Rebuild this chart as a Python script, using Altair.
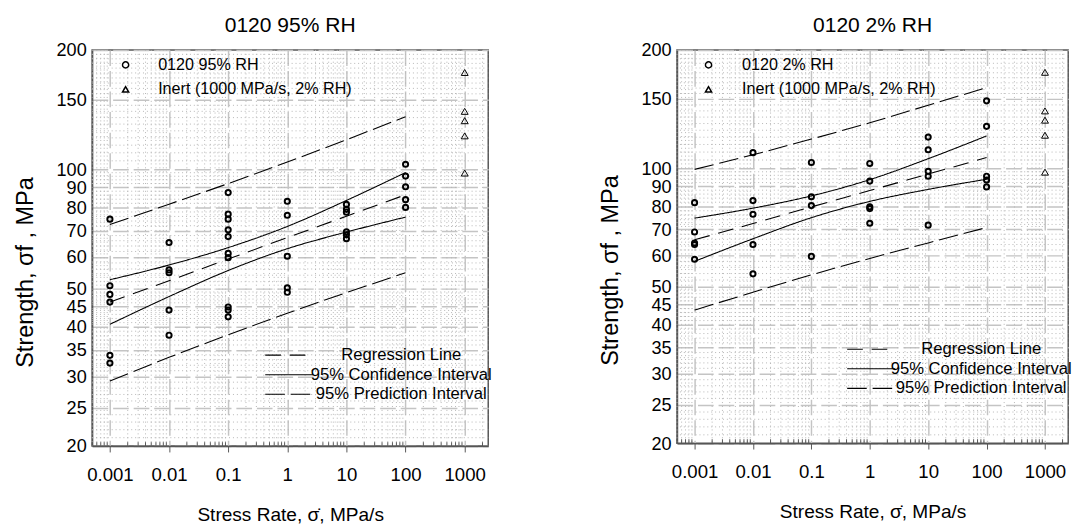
import altair as alt
import pandas as pd

FONT = "Liberation Sans"

# ---------------- data ----------------
RATES = [0.001, 0.01, 0.1, 1, 10, 100]
DECADES = [0.001, 0.01, 0.1, 1, 10, 100, 1000]
Y_TICKS = [20, 25, 30, 35, 40, 45, 50, 60, 70, 80, 90, 100, 150, 200]

INERT_LABEL = "Inert (1000 MPa/s, 2% RH)"
INERT_RATE = [1000, 1000, 1000, 1000, 1000]
INERT_STRENGTH = [175.5, 140.0, 132.6, 121.4, 97.8]

# 0120 95% RH
L_RATE = [0.001, 0.001, 0.001, 0.001, 0.001, 0.001,
          0.01, 0.01, 0.01, 0.01, 0.01,
          0.1, 0.1, 0.1, 0.1, 0.1, 0.1, 0.1, 0.1, 0.1, 0.1,
          1, 1, 1, 1, 1,
          10, 10, 10, 10, 10, 10,
          100, 100, 100, 100, 100]
L_STRENGTH = [74.8, 50.8, 48.3, 46.2, 33.9, 32.4,
              65.3, 55.7, 54.8, 44.1, 38.1,
              87.3, 77.0, 74.8, 70.3, 67.6, 61.3, 59.8, 44.9, 44.1, 42.4,
              83.0, 76.5, 60.3, 50.2, 48.9,
              81.5, 79.2, 77.9, 69.5, 68.3, 66.8,
              102.9, 96.1, 90.3, 83.8, 80.1]
L_REG = [46.2, 52.3, 59.3, 67.2, 76.1, 86.2]
L_CI_UP = [52.6, 57.3, 63.4, 71.7, 83.4, 98.1]
L_CI_LO = [40.6, 47.7, 55.5, 63.0, 69.4, 75.7]
L_PI_UP = [72.5, 81.6, 92.0, 104.3, 118.7, 135.7]
L_PI_LO = [29.2, 33.5, 38.2, 43.3, 48.8, 54.8]

# 0120 2% RH
R_RATE = [0.001, 0.001, 0.001, 0.001, 0.001,
          0.01, 0.01, 0.01, 0.01, 0.01,
          0.1, 0.1, 0.1, 0.1,
          1, 1, 1, 1, 1,
          10, 10, 10, 10, 10,
          100, 100, 100, 100, 100]
R_STRENGTH = [81.8, 68.9, 64.6, 64.0, 58.7,
              109.6, 82.8, 76.4, 64.0, 53.9,
              103.5, 84.7, 80.4, 59.7,
              102.9, 92.8, 79.8, 79.0, 72.5,
              120.1, 111.5, 98.3, 95.5, 71.7,
              148.5, 127.9, 95.5, 93.4, 89.7]
R_REG = [65.8, 72.4, 79.8, 87.8, 96.7, 106.5]
R_CI_UP = [74.7, 79.2, 85.1, 93.6, 105.8, 120.9]
R_CI_LO = [58.0, 66.2, 74.9, 82.4, 88.4, 93.8]
R_PI_UP = [99.4, 108.3, 118.7, 130.6, 144.7, 160.5]
R_PI_LO = [43.6, 48.4, 53.6, 59.0, 64.6, 70.7]

LINE_KINDS = ["Regression Line", "95% Confidence Interval", "95% Prediction Interval"]

# grid line positions
X_MINOR = [m * 10.0 ** e for e in range(-4, 4) for m in range(2, 10)
           if 0.0005 <= m * 10.0 ** e <= 2500]
Y_MINOR = ([v for v in range(21, 50) if v % 5 != 0]
           + [v for v in range(52, 100, 2) if v % 10 != 0]
           + [v for v in range(105, 200, 5) if v != 150])

XSCALE = alt.Scale(type="log", domain=[0.0005, 2500], nice=False)
YSCALE = alt.Scale(type="log", domain=[20, 200], nice=False)

X_AXIS = alt.Axis(values=DECADES, format="~g", title="Stress Rate, σ̇, MPa/s",
                  grid=True, gridDash=[16, 5], gridColor="#c4c4c4", gridWidth=1.5,
                  tickSize=6, tickColor="#555555", domainColor="#555555", domainWidth=1.5,
                  labelFontSize=19, titleFontSize=19.5, labelPadding=14, titlePadding=22,
                  labelColor="black", titleColor="black", titleFontWeight="normal",
                  labelFlush=False, labelOverlap=False)


def y_axis(title_y):
    return alt.Axis(values=Y_TICKS, format="d", title="Strength,  σf ,  MPa",
                    grid=True, gridDash=[16, 5], gridColor="#c4c4c4", gridWidth=1.5,
                    ticks=False, domainColor="#555555", domainWidth=1.5,
                    labelFontSize=18.5, titleFontSize=24, labelPadding=6,
                    titlePadding=19, titleY=title_y,
                    labelColor="black", titleColor="black", titleFontWeight="normal",
                    labelFlush=False, labelOverlap=False)


def panel(title, series_label, p_rate, p_str, reg, ci_up, ci_lo, pi_up, pi_lo,
          width, height, shape_x, shape_label_offset,
          dash_x, dash_y, dash_label_offset, title_y):
    pts = pd.DataFrame({"rate": p_rate, "strength": p_str, "series": series_label})
    inert = pd.DataFrame({"rate": INERT_RATE, "strength": INERT_STRENGTH,
                          "series": INERT_LABEL})
    rows = []
    for curve, kind, vals in [("reg", LINE_KINDS[0], reg),
                              ("ciu", LINE_KINDS[1], ci_up),
                              ("cil", LINE_KINDS[1], ci_lo),
                              ("piu", LINE_KINDS[2], pi_up),
                              ("pil", LINE_KINDS[2], pi_lo)]:
        for r, v in zip(RATES, vals):
            rows.append({"rate": r, "strength": v, "kind": kind, "curve": curve})
    lines = pd.DataFrame(rows)
    xminor = pd.DataFrame({"rate": X_MINOR})
    yminor = pd.DataFrame({"strength": Y_MINOR})

    yax = y_axis(title_y)
    x = alt.X("rate:Q", scale=XSCALE, axis=X_AXIS)
    y = alt.Y("strength:Q", scale=YSCALE, axis=yax)

    vgrid = alt.Chart(xminor).mark_rule(color="#b4b4b4", strokeWidth=1,
                                        strokeDash=[1, 3]).encode(x=x)
    hgrid = alt.Chart(yminor).mark_rule(color="#b4b4b4", strokeWidth=1,
                                        strokeDash=[1, 3]).encode(y=y)
    mticks = alt.Chart(xminor).mark_rule(color="#555555", strokeWidth=1).encode(
        x=x, y=alt.value(height), y2=alt.value(height - 4))

    shape_scale = alt.Scale(domain=[series_label, INERT_LABEL],
                            range=["circle", "triangle-up"])
    shape_legend = alt.Legend(orient="none", legendX=shape_x, legendY=7, title=None,
                              labelFontSize=16.5, labelColor="black",
                              labelOffset=shape_label_offset, labelLimit=400,
                              symbolStrokeColor="black", symbolStrokeWidth=1.5,
                              symbolSize=40, symbolFillColor="transparent",
                              rowPadding=8, padding=0)

    line_layer = alt.Chart(lines).mark_line(color="black", strokeWidth=1.1,
                                            interpolate="monotone").encode(
        x=x, y=y,
        strokeDash=alt.StrokeDash(
            "kind:N",
            scale=alt.Scale(domain=LINE_KINDS, range=[[16, 9], [1, 0], [20, 6]]),
            legend=alt.Legend(orient="none", legendX=dash_x, legendY=dash_y,
                              title=None, symbolType="stroke", symbolSize=2400,
                              symbolStrokeColor="black", symbolStrokeWidth=1.1,
                              labelFontSize=17, labelColor="black",
                              labelAlign="center", labelOffset=dash_label_offset,
                              labelLimit=400,
                              clipHeight=20, rowPadding=0, padding=0)),
        detail="curve:N")

    circles = alt.Chart(pts).mark_point(filled=False, color="black", strokeWidth=2,
                                        size=28, opacity=1).encode(
        x=x, y=y, shape=alt.Shape("series:N", scale=shape_scale, legend=shape_legend))
    tris = alt.Chart(inert).mark_point(filled=False, color="black", strokeWidth=1,
                                       size=50, opacity=1).encode(
        x=x, y=y, shape=alt.Shape("series:N", scale=shape_scale, legend=shape_legend))

    return alt.layer(vgrid, hgrid, mticks, line_layer, circles, tris).properties(
        width=width, height=height,
        title=alt.TitleParams(title, fontSize=21.5, fontWeight="normal", color="black",
                              anchor="middle", frame="group", offset=5))


left = panel("0120 95% RH", "0120 95% RH", L_RATE, L_STRENGTH,
             L_REG, L_CI_UP, L_CI_LO, L_PI_UP, L_PI_LO, 405, 405,
             26, 25, 176, 302, 89, 227)
right = panel("0120 2% RH", "0120 2% RH", R_RATE, R_STRENGTH,
              R_REG, R_CI_UP, R_CI_LO, R_PI_UP, R_PI_LO, 400, 402,
              24, 26, 173, 296, 87, 225)

chart = alt.hconcat(left, right, spacing=107).resolve_scale(
    shape="independent").resolve_legend(shape="independent", strokeDash="independent"
).properties(padding={"left": 5, "top": 0, "right": 5, "bottom": 5}
).configure(font=FONT).configure_view(stroke="#555555", strokeWidth=1.5)

chart.save("out.html", embed_options={"renderer": "svg", "actions": False})
